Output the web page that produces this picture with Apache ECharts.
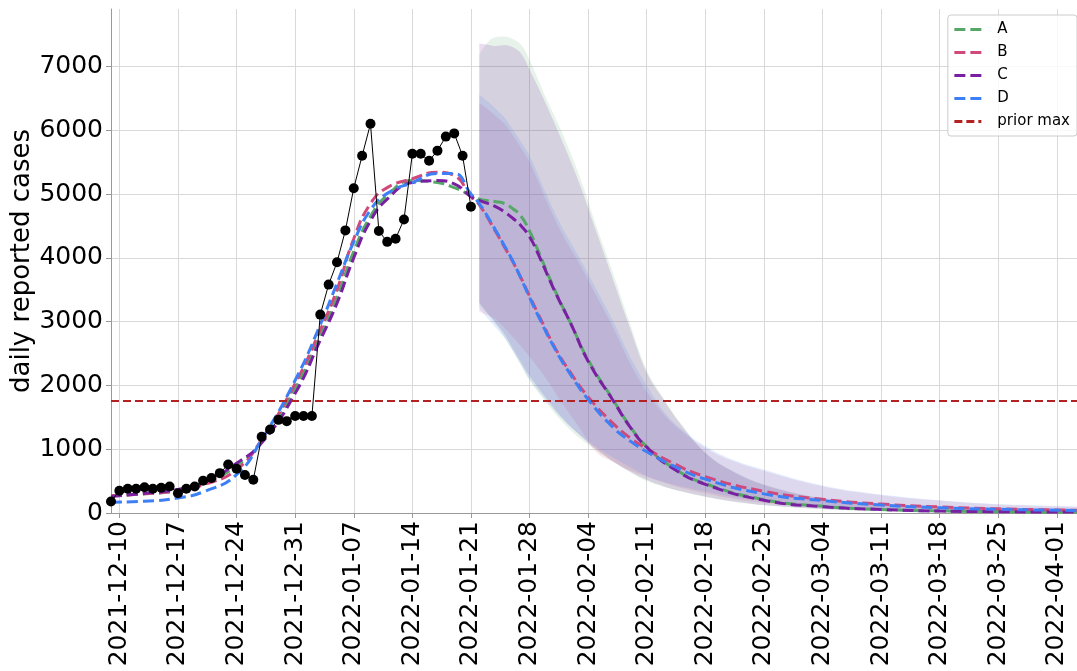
<!DOCTYPE html>
<html>
<head>
<meta charset="utf-8">
<script src="https://cdn.jsdelivr.net/npm/echarts@6/dist/echarts.min.js"></script>
<style>
  html, body { margin: 0; padding: 0; background: #fff; }
  #chart { width: 1077px; height: 671px; }
</style>
</head>
<body>
<div id="chart"></div>
<script>
// daily categories 2021-12-09 .. 2022-04-04
var days = [];
for (var t = Date.UTC(2021, 11, 9); t <= Date.UTC(2022, 3, 4); t += 86400000) {
	days.push(new Date(t).toISOString().slice(0, 10));
}

var yTicks = [0, 1000, 2000, 3000, 4000, 5000, 6000, 7000];
var priorMax = 1760;

// observed daily cases, 2021-12-09 .. 2022-01-21
var observed = [180, 350, 380, 380, 405, 380, 395, 415, 310, 380, 415, 505, 550, 625, 760, 695,
	595, 520, 1195, 1310, 1460, 1440, 1520, 1520, 1520, 3110, 3580, 3930, 4430, 5090, 5600, 6100,
	4420, 4250, 4300, 4600, 5630, 5630, 5520, 5680, 5900, 5950, 5600, 4800];

// model fits / forecasts
var modelDates = ['2021-12-09', '2021-12-13', '2021-12-17', '2021-12-20', '2021-12-24', '2021-12-27',
	'2021-12-31', '2022-01-03', '2022-01-05', '2022-01-07', '2022-01-09', '2022-01-11', '2022-01-14',
	'2022-01-17', '2022-01-19', '2022-01-21', '2022-01-22', '2022-01-24', '2022-01-25', '2022-01-26',
	'2022-01-27', '2022-01-28', '2022-01-29', '2022-01-31', '2022-02-02', '2022-02-04', '2022-02-07',
	'2022-02-09', '2022-02-11', '2022-02-14', '2022-02-18', '2022-02-25', '2022-03-04', '2022-03-11',
	'2022-03-18', '2022-03-25', '2022-04-04'];
var modelA = [270, 300, 350, 460, 740, 1120, 1950, 2780, 3380, 4100, 4650, 4980, 5210, 5180, 5100, 4980,
	4920, 4880, 4850, 4770, 4650, 4420, 4120, 3500, 2950, 2400, 1770, 1360, 1040, 720, 460, 210, 105, 55, 32, 22, 14];
var modelB = [270, 300, 350, 440, 680, 1150, 2030, 2870, 3500, 4300, 4850, 5100, 5240, 5340, 5290, 4960,
	4830, 4400, 4170, 3940, 3680, 3400, 3130, 2600, 2180, 1820, 1400, 1180, 1010, 790, 570, 340, 215, 140, 95, 65, 42];
var modelC = [260, 310, 370, 470, 780, 1100, 1875, 2710, 3290, 4000, 4580, 4920, 5180, 5210, 5160, 4960,
	4900, 4800, 4720, 4620, 4500, 4330, 4070, 3480, 2950, 2380, 1760, 1350, 1030, 710, 450, 200, 100, 55, 30, 20, 14];
var modelD = [170, 185, 235, 330, 600, 1150, 2080, 2950, 3600, 4250, 4750, 5010, 5180, 5320, 5320, 5000,
	4850, 4420, 4190, 3950, 3670, 3380, 3100, 2580, 2150, 1780, 1340, 1130, 960, 750, 530, 300, 195, 125, 82, 58, 40];

// forecast intervals
var bandDates = ['2022-01-22', '2022-01-23', '2022-01-24', '2022-01-25', '2022-01-26', '2022-01-27',
	'2022-01-28', '2022-01-30', '2022-02-01', '2022-02-03', '2022-02-05', '2022-02-07', '2022-02-09',
	'2022-02-11', '2022-02-13', '2022-02-15', '2022-02-18', '2022-02-21', '2022-02-25', '2022-03-04',
	'2022-03-11', '2022-03-18', '2022-03-25', '2022-04-04'];
var upperA = [7180, 7380, 7460, 7470, 7430, 7340, 7100, 6500, 5930, 5270, 4490, 3750, 2970, 2240, 1800, 1420, 950, 680, 450, 230, 130, 80, 55, 38];
var lowerA = [3260, 3120, 2950, 2750, 2540, 2310, 2080, 1730, 1420, 1170, 980, 800, 640, 500, 410, 340, 250, 185, 120, 60, 30, 18, 12, 8];
var upperB = [6430, 6330, 6220, 6100, 5920, 5720, 5500, 4900, 4350, 3900, 3400, 2900, 2350, 1900, 1550, 1300, 1020, 830, 660, 420, 280, 195, 135, 95];
var lowerB = [3150, 3100, 3030, 2900, 2760, 2610, 2450, 2100, 1700, 1330, 950, 800, 670, 570, 480, 400, 310, 230, 155, 95, 65, 45, 30, 22];
var upperC = [7360, 7340, 7320, 7330, 7300, 7200, 6950, 6400, 5800, 5150, 4400, 3650, 2900, 2200, 1780, 1400, 940, 670, 440, 225, 125, 78, 52, 36];
var lowerC = [3300, 3130, 2970, 2800, 2580, 2360, 2150, 1800, 1480, 1220, 1000, 810, 650, 520, 420, 345, 260, 190, 125, 62, 32, 19, 12, 8];
var upperD = [6560, 6450, 6330, 6200, 6010, 5810, 5600, 5000, 4450, 3990, 3500, 3000, 2450, 2000, 1600, 1330, 1050, 850, 680, 430, 290, 200, 140, 100];
var lowerD = [3200, 3050, 2900, 2750, 2540, 2320, 2100, 1760, 1460, 1230, 1030, 870, 720, 580, 490, 420, 340, 260, 190, 115, 72, 48, 34, 25];

var font = 'DejaVu Sans';
var colors = { A: '#55a868', B: '#d1497b', C: '#7b1fa2', D: '#3d7ff5', prior: '#b22222' };

function weekly(idx) {
	return (idx - 1) % 7 === 0;
}

function pairs(dates, vals) {
	return dates.map(function (d, i) { return [d, vals[i]]; });
}

function band(key, opacity, lower, upper) {
	return [{
		name: key + ' lo',
		type: 'line',
		stack: 'band' + key,
		data: pairs(bandDates, lower),
		symbol: 'none',
		smooth: 0.4,
		lineStyle: { opacity: 0 },
		silent: true,
		z: 1
	}, {
		name: key + ' band',
		type: 'line',
		stack: 'band' + key,
		data: bandDates.map(function (d, i) { return [d, upper[i] - lower[i]]; }),
		symbol: 'none',
		smooth: 0.4,
		lineStyle: { opacity: 0 },
		areaStyle: { color: colors[key], opacity: opacity },
		silent: true,
		z: 1
	}];
}

function model(key, vals) {
	return {
		name: key,
		type: 'line',
		data: pairs(modelDates, vals),
		symbol: 'none',
		smooth: 0.5,
		lineStyle: { color: colors[key], width: 3, type: [11, 5] },
		itemStyle: { color: colors[key] },
		z: 3
	};
}

var chart = echarts.init(document.getElementById('chart'));

var series = [].concat(
	band('A', 0.14, lowerA, upperA),
	band('B', 0.13, lowerB, upperB),
	band('C', 0.16, lowerC, upperC),
	band('D', 0.14, lowerD, upperD),
	[model('A', modelA), model('B', modelB), model('C', modelC), model('D', modelD),
	{
		name: 'prior max',
		type: 'line',
		data: [],
		symbol: 'none',
		lineStyle: { color: colors.prior, width: 2.2, type: [8, 4] },
		itemStyle: { color: colors.prior },
		markLine: {
			silent: true,
			symbol: 'none',
			label: { show: false },
			lineStyle: { color: colors.prior, width: 2.2, type: [8, 4] },
			data: [{ yAxis: priorMax }]
		},
		z: 3
	},
	{
		name: 'observed',
		type: 'line',
		data: observed,
		symbol: 'circle',
		symbolSize: 10,
		showAllSymbol: true,
		lineStyle: { color: '#000', width: 1 },
		itemStyle: { color: '#000' },
		z: 5
	}]
);

option = {
	backgroundColor: '#fff',
	animation: false,
	grid: {
		left: 111,
		top: 9,
		width: 971,
		bottom: 158,
		containLabel: false,
		outerBoundsMode: 'none'
	},
	legend: {
		data: ['A', 'B', 'C', 'D', 'prior max'],
		orient: 'vertical',
		right: 0,
		top: 15,
		padding: [7, 7, 7, 5],
		itemGap: 8,
		itemWidth: 27,
		itemHeight: 14,
		backgroundColor: 'rgba(255,255,255,0.8)',
		borderColor: '#cccccc',
		borderWidth: 1,
		borderRadius: 3,
		itemStyle: { opacity: 0 },
		lineStyle: { width: 3 },
		textStyle: {
			fontFamily: font,
			fontSize: 15,
			color: '#000',
			padding: [0, 0, 0, 11]
		}
	},
	xAxis: {
		type: 'category',
		data: days,
		boundaryGap: false,
		axisLine: { lineStyle: { color: '#999', width: 1 } },
		axisTick: { interval: weekly, length: 5, lineStyle: { color: '#999' } },
		axisLabel: {
			interval: weekly,
			rotate: 90,
			margin: 8,
			fontFamily: font,
			fontSize: 25,
			color: '#000'
		},
		splitLine: { show: true, interval: weekly, lineStyle: { color: '#d9d9d9', width: 1 } }
	},
	yAxis: {
		type: 'value',
		min: 0,
		max: 7900,
		name: 'daily reported cases',
		nameLocation: 'middle',
		nameGap: 76,
		nameMoveOverlap: false,
		nameTextStyle: { fontFamily: font, fontSize: 26, color: '#000' },
		axisLine: { show: true, lineStyle: { color: '#999', width: 1 } },
		axisTick: { show: true, length: 5, customValues: yTicks, lineStyle: { color: '#999' } },
		axisLabel: {
			customValues: yTicks,
			margin: 8,
			fontFamily: font,
			fontSize: 25,
			color: '#000',
			formatter: function (v) { return String(v); }
		},
		splitLine: { show: true, lineStyle: { color: '#d9d9d9', width: 1 } }
	},
	series: series
};

chart.setOption(option);
</script>
</body>
</html>
